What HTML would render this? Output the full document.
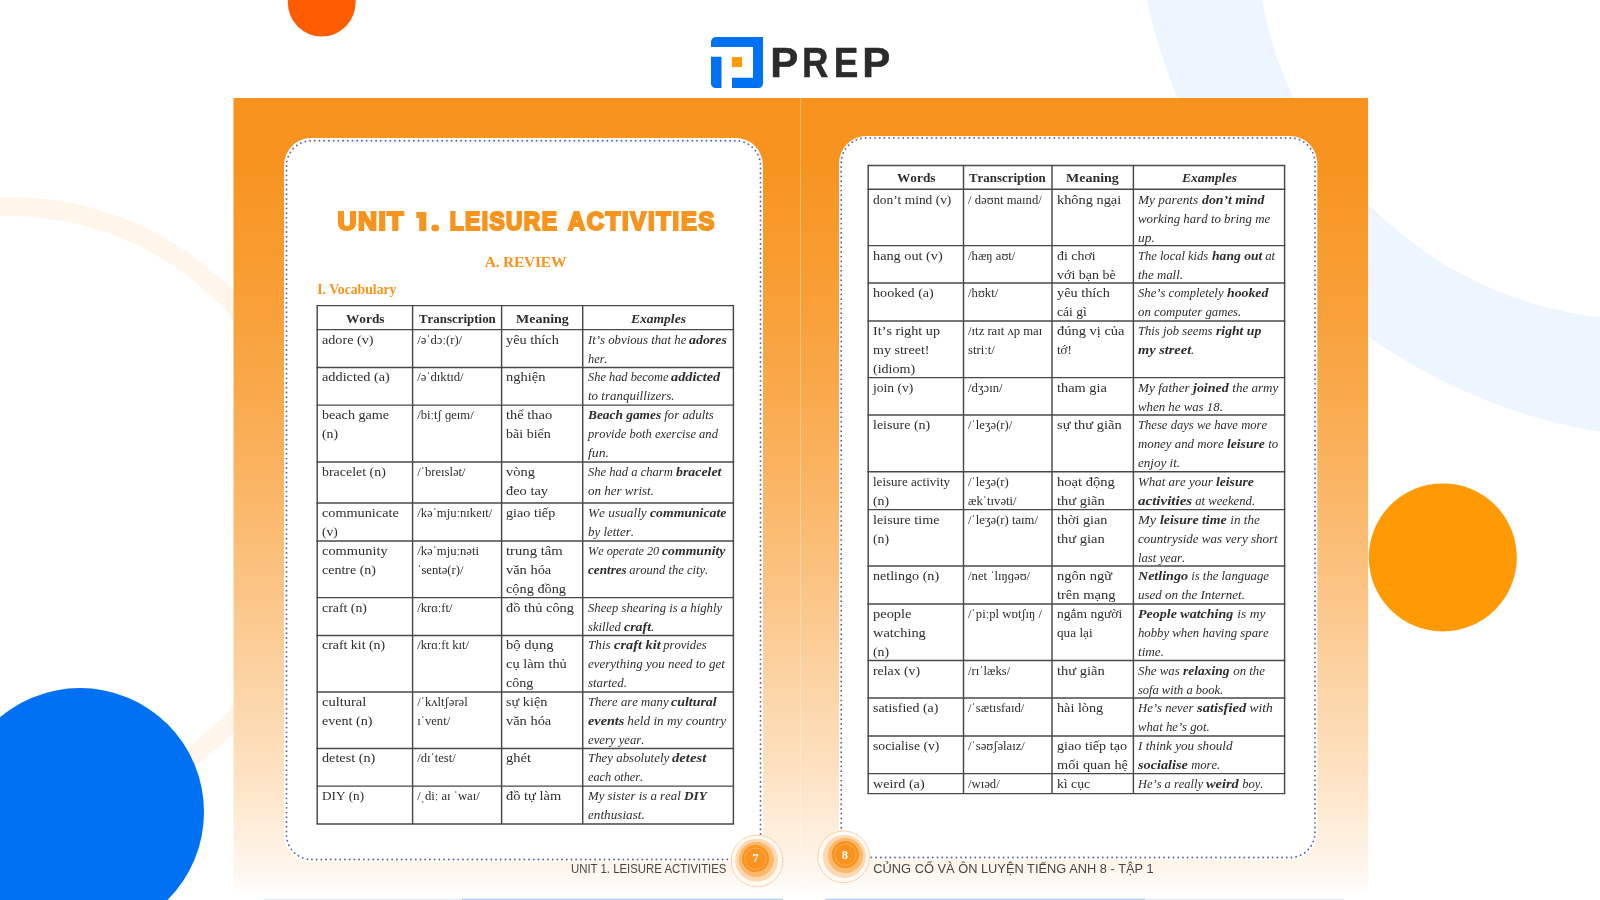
<!DOCTYPE html>
<html lang="vi"><head><meta charset="utf-8"><title>PREP - Unit 1. Leisure Activities</title>
<style>
*{margin:0;padding:0;box-sizing:border-box}
html,body{width:1600px;height:900px;overflow:hidden;background:#fff}
body{position:relative;-webkit-font-smoothing:antialiased;font-family:"Liberation Serif",serif;color:#2e2c2e}
#stage{position:absolute;left:0;top:0;width:1600px;height:900px;overflow:hidden;will-change:transform;transform:translateZ(0)}
.abs,.c,.th,.grid,svg.bg,svg.fg{position:absolute}
svg.bg,svg.fg,.grid{left:0;top:0;pointer-events:none}
.c{white-space:pre;line-height:18.9px;font-size:13.1px;font-kerning:none;font-variant-ligatures:none}
.s{display:inline-block;transform-origin:0 50%;white-space:pre}
.c.ipa{font-size:12.65px;letter-spacing:0}
.c.e{font-style:italic;font-size:13.2px}
.th{white-space:pre;line-height:19px;font-size:13.1px;font-weight:bold;font-kerning:none;font-variant-ligatures:none}
.th.ex{font-style:italic;font-size:13.2px}
.sub{position:absolute;left:284px;width:483px;top:251.5px;text-align:center;font-weight:bold;font-size:15.5px;line-height:20px;color:#f7941d;letter-spacing:-.25px;white-space:nowrap}
.voc{position:absolute;left:317.3px;top:279.6px;font-weight:bold;font-size:13.7px;line-height:20px;color:#f7941d;white-space:nowrap}
</style></head>
<body>
<div id="stage">
<svg class="bg" width="1600" height="900" viewBox="0 0 1600 900">
<path fill="#edf6ff" fill-rule="evenodd" d="M1134.6 -116.2a555 555 0 1 0 1110 0a555 555 0 1 0 -1110 0ZM1255.7 -69.7a389.8 389.8 0 1 0 779.6 0a389.8 389.8 0 1 0 -779.6 0Z"/>
<circle cx="9" cy="512" r="305.5" fill="none" stroke="#fff5ea" stroke-width="19"/>
<circle cx="321.7" cy="2.6" r="33.9" fill="#ff5c00"/>
<circle cx="80" cy="812" r="124" fill="#0071f2"/>
<circle cx="1442.8" cy="557.4" r="74" fill="#ff9a05"/>
</svg>
<svg class="bg" width="1600" height="900" viewBox="0 0 1600 900"><defs><linearGradient id="sg" x1="0" y1="98" x2="0" y2="900" gradientUnits="userSpaceOnUse"><stop offset="0.0000" stop-color="#f7931e"/><stop offset="0.0773" stop-color="#f7931e"/><stop offset="0.1272" stop-color="#f79726"/><stop offset="0.1895" stop-color="#f89b2e"/><stop offset="0.2519" stop-color="#f89f37"/><stop offset="0.3766" stop-color="#f9aa4d"/><stop offset="0.5012" stop-color="#fab768"/><stop offset="0.6259" stop-color="#fbc688"/><stop offset="0.7506" stop-color="#fcd6aa"/><stop offset="0.8504" stop-color="#fde3c4"/><stop offset="0.9127" stop-color="#feeedb"/><stop offset="0.9626" stop-color="#fef6ed"/><stop offset="0.9963" stop-color="#ffffff"/><stop offset="1.0000" stop-color="#ffffff"/></linearGradient></defs><rect x="233.5" y="98" width="1134.6" height="802" fill="url(#sg)"/></svg>
<svg class="fg" width="1600" height="900" viewBox="0 0 1600 900">
<path d="M800.5 98V900" stroke="#fff" stroke-width="1" opacity=".33"/>
<path d="M311.5 138H735.5A27.5 27.5 0 0 1 763 165.5V862H311.5A27.5 27.5 0 0 1 284 834.5V165.5A27.5 27.5 0 0 1 311.5 138Z" fill="#fff"/>
<path d="M866.5 136H1289.8A27.5 27.5 0 0 1 1317.3 163.5V832.5A27.5 27.5 0 0 1 1289.8 860H839V163.5A27.5 27.5 0 0 1 866.5 136Z" fill="#fff"/>
<g fill="none" stroke="#5f60aa" stroke-width="1.9" stroke-linecap="round" stroke-dasharray="0 4.72">
<path d="M732 859.5H311.5A25.0 25.0 0 0 1 286.5 834.5V165.7A25.0 25.0 0 0 1 311.5 140.7H735.5A25.0 25.0 0 0 1 760.5 165.7V839"/>
<path d="M841.2 832.5V162.9A25.0 25.0 0 0 1 866.2 137.9H1290.0A25.0 25.0 0 0 1 1315.0 162.9V832.5A25.0 25.0 0 0 1 1290.0 857.5H866.5"/>
</g>
<g>
<circle cx="757" cy="860.9" r="25.8" fill="#fffaf4" stroke="#f8b06a" stroke-width="0.75" stroke-dasharray="2.2 0.7"/>
<circle cx="756.6" cy="860.2" r="21.5" fill="#fdd9b1"/>
<circle cx="756.3" cy="859.4" r="17.6" fill="#fab96d"/>
<circle cx="755.6" cy="858.6" r="13.5" fill="#f7931e"/>
<circle cx="755.4" cy="858.7" r="10.6" fill="none" stroke="#fde0bf" stroke-width="0.65" stroke-dasharray="1.1 0.9"/>
<text x="755.6" y="862.3000000000001" text-anchor="middle" font-family="Liberation Serif" font-weight="bold" font-size="12.4" fill="#fff">7</text>
</g>
<g>
<circle cx="843.7" cy="856.9" r="25.8" fill="#fffaf4" stroke="#f8b06a" stroke-width="0.75" stroke-dasharray="2.2 0.7"/>
<circle cx="844.4" cy="856.4" r="21.5" fill="#fdd9b1"/>
<circle cx="845.5" cy="855.6" r="17.6" fill="#fab96d"/>
<circle cx="845.4" cy="854.6" r="13.5" fill="#f7931e"/>
<circle cx="845.4" cy="854.7" r="10.6" fill="none" stroke="#fde0bf" stroke-width="0.65" stroke-dasharray="1.1 0.9"/>
<text x="844.8" y="858.7" text-anchor="middle" font-family="Liberation Serif" font-weight="bold" font-size="12.4" fill="#fff">8</text>
</g>
<path d="M264 899.4H462" stroke="#e3eefb" stroke-width="1.25"/>
<path d="M462 899.4H783" stroke="#a6cbf4" stroke-width="1.25"/>
<path d="M825.5 899.4H1145" stroke="#a6cbf4" stroke-width="1.25"/>
<path d="M1145 899.4H1344" stroke="#e3eefb" stroke-width="1.25"/>
</svg>
<svg class="abs" style="left:711px;top:37px" width="52" height="51" viewBox="0 0 52 51">
<path d="M5 0H52V46.5a4.5 4.5 0 0 1-4.500 4.500H21V40.800H42V10H0V5a5 5 0 0 1 5-5Z" fill="#0071f2"/>
<path d="M0 19.800H10.500V51H4.500a4.500 4.500 0 0 1-4.500-4.500Z" fill="#0071f2"/>
<rect x="21" y="20" width="10" height="10" fill="#ff9a00"/>
</svg>
<svg class="abs" style="left:0;top:0" width="1600" height="300" viewBox="0 0 1600 300"><g font-family="Liberation Sans" font-weight="bold" font-size="24.9" fill="#f7941d" stroke="#f7941d" stroke-width="2.2" stroke-linejoin="miter" stroke-miterlimit="2.5"><text transform="scale(1.06 1)" x="318.30" y="229.6" textLength="62.26" lengthAdjust="spacing">UNIT</text><text transform="scale(0.91 1)" x="494.29" y="229.6" textLength="117.58" lengthAdjust="spacing">LEISURE</text><text transform="scale(0.95 1)" x="597.79" y="229.6" textLength="154.11" lengthAdjust="spacing">ACTIVITIES</text></g><path d="M416.3 212.1H426.3V230.9H419.2V218H416.3Z" fill="#f7941d"/><ellipse cx="435.2" cy="227.9" rx="3.9" ry="3.35" fill="#f7941d"/><text transform="translate(770.29 77.0) scale(0.9690 1)" font-family="Liberation Sans" font-weight="bold" font-size="43.4" fill="#2b2b2d" stroke="#2b2b2d" stroke-width="0.5">P</text><text transform="translate(801.96 77.0) scale(0.8421 1)" font-family="Liberation Sans" font-weight="bold" font-size="43.4" fill="#2b2b2d" stroke="#2b2b2d" stroke-width="0.5">R</text><text transform="translate(833.73 77.0) scale(0.8501 1)" font-family="Liberation Sans" font-weight="bold" font-size="43.4" fill="#2b2b2d" stroke="#2b2b2d" stroke-width="0.5">E</text><text transform="translate(862.19 77.0) scale(0.9690 1)" font-family="Liberation Sans" font-weight="bold" font-size="43.4" fill="#2b2b2d" stroke="#2b2b2d" stroke-width="0.5">P</text></svg>
<div class="sub">A. REVIEW</div>
<div class="voc">I. Vocabulary</div>
<svg class="grid" width="1600" height="900" viewBox="0 0 1600 900"><g stroke="#4a474a" stroke-width="1.45" fill="none"><path d="M316.5 305.6H734.1"/><path d="M316.5 329.6H734.1"/><path d="M316.5 367.4H734.1"/><path d="M316.5 405.1H734.1"/><path d="M316.5 461.9H734.1"/><path d="M316.5 503.0H734.1"/><path d="M316.5 541.0H734.1"/><path d="M316.5 597.6H734.1"/><path d="M316.5 635.4H734.1"/><path d="M316.5 692.0H734.1"/><path d="M316.5 748.5H734.1"/><path d="M316.5 786.1H734.1"/><path d="M316.5 824.0H734.1"/><path d="M317.2 305.6V824.0"/><path d="M412.6 305.6V824.0"/><path d="M501.6 305.6V824.0"/><path d="M582.7 305.6V824.0"/><path d="M733.4 305.6V824.0"/></g></svg>
<div class="th" style="left:345.62px;top:309.2px"><span class="s" style="font-weight:bold;transform:scaleX(1.0185);margin-right:0.70px">Words</span></div>
<div class="th" style="left:418.69px;top:309.2px"><span class="s" style="font-weight:bold;transform:scaleX(0.9864);margin-right:-1.06px">Transcription</span></div>
<div class="th" style="left:515.74px;top:309.2px"><span class="s" style="font-weight:bold;transform:scaleX(1.0674);margin-right:3.34px">Meaning</span></div>
<div class="th ex" style="left:630.57px;top:309.2px"><span class="s" style="font-weight:bold;transform:scaleX(1.0266);margin-right:1.42px">Examples</span></div>
<div class="c w" style="left:321.70px;top:331.10px"><span class="s" style="transform:scaleX(1.0821);margin-right:3.91px">adore (v)</span></div>
<div class="c ipa" style="left:417.20px;top:331.10px">/əˈdɔː(r)/</div>
<div class="c m" style="left:506.10px;top:331.10px"><span class="s" style="transform:scaleX(1.0913);margin-right:4.42px">yêu thích</span></div>
<div class="c e" style="left:587.60px;top:331.10px"><span class="s" style="transform:scaleX(0.9689);margin-right:-3.26px">It’s obvious that he </span><span class="s" style="font-weight:bold;transform:scaleX(1.0532);margin-right:1.91px">adores</span><br><span class="s" style="transform:scaleX(0.9397);margin-right:-1.26px">her.</span></div>
<div class="c w" style="left:321.70px;top:368.10px"><span class="s" style="transform:scaleX(1.0921);margin-right:5.73px">addicted (a)</span></div>
<div class="c ipa" style="left:417.20px;top:368.10px">/əˈdɪktɪd/</div>
<div class="c m" style="left:506.10px;top:368.10px"><span class="s" style="transform:scaleX(1.1057);margin-right:3.77px">nghiện</span></div>
<div class="c e" style="left:587.60px;top:368.10px"><span class="s" style="transform:scaleX(0.9391);margin-right:-5.43px">She had become </span><span class="s" style="font-weight:bold;transform:scaleX(1.0839);margin-right:3.81px">addicted</span><br><span class="s" style="transform:scaleX(0.9842);margin-right:-1.39px">to tranquillizers.</span></div>
<div class="c w" style="left:321.70px;top:406.10px"><span class="s" style="transform:scaleX(1.0799);margin-right:4.97px">beach game</span><br><span class="s" style="transform:scaleX(1.0499);margin-right:0.76px">(n)</span></div>
<div class="c ipa" style="left:417.20px;top:406.10px">/biːtʃ ɡeɪm/</div>
<div class="c m" style="left:506.10px;top:406.10px"><span class="s" style="transform:scaleX(1.1031);margin-right:4.31px">thể thao</span><br><span class="s" style="transform:scaleX(1.0723);margin-right:3.03px">bãi biển</span></div>
<div class="c e" style="left:587.60px;top:406.10px"><span class="s" style="font-weight:bold;transform:scaleX(1.0130);margin-right:0.94px">Beach games</span><span class="s" style="transform:scaleX(0.9733);margin-right:-1.45px"> for adults</span><br><span class="s" style="transform:scaleX(0.9511);margin-right:-6.68px">provide both exercise and</span><br><span class="s" style="transform:scaleX(1.0450);margin-right:0.91px">fun.</span></div>
<div class="c w" style="left:321.70px;top:463.10px"><span class="s" style="transform:scaleX(1.0634);margin-right:3.80px">bracelet (n)</span></div>
<div class="c ipa" style="left:417.20px;top:463.10px">/ˈbreɪslət/</div>
<div class="c m" style="left:506.10px;top:463.10px"><span class="s" style="transform:scaleX(1.1030);margin-right:2.70px">vòng</span><br><span class="s" style="transform:scaleX(1.0995);margin-right:3.80px">đeo tay</span></div>
<div class="c e" style="left:587.60px;top:463.10px"><span class="s" style="transform:scaleX(0.9529);margin-right:-4.35px">She had a charm </span><span class="s" style="font-weight:bold;transform:scaleX(1.0506);margin-right:2.19px">bracelet</span><br><span class="s" style="transform:scaleX(0.9840);margin-right:-1.07px">on her wrist.</span></div>
<div class="c w" style="left:321.70px;top:504.10px"><span class="s" style="transform:scaleX(1.0884);margin-right:6.24px">communicate</span><br><span class="s" style="transform:scaleX(1.0356);margin-right:0.54px">(v)</span></div>
<div class="c ipa" style="left:417.20px;top:504.10px">/kəˈmjuːnɪkeɪt/</div>
<div class="c m" style="left:506.10px;top:504.10px"><span class="s" style="transform:scaleX(1.0829);margin-right:3.77px">giao tiếp</span></div>
<div class="c e" style="left:587.60px;top:504.10px"><span class="s" style="transform:scaleX(1.0086);margin-right:0.53px">We usually </span><span class="s" style="font-weight:bold;transform:scaleX(1.0416);margin-right:3.05px">communicate</span><br><span class="s" style="transform:scaleX(0.9789);margin-right:-0.99px">by letter.</span></div>
<div class="c w" style="left:321.70px;top:542.10px"><span class="s" style="transform:scaleX(1.1004);margin-right:5.99px">community</span><br><span class="s" style="transform:scaleX(1.0685);margin-right:3.46px">centre (n)</span></div>
<div class="c ipa" style="left:417.20px;top:542.10px">/kəˈmjuːnəti<br>ˈsentə(r)/</div>
<div class="c m" style="left:506.10px;top:542.10px"><span class="s" style="transform:scaleX(1.1234);margin-right:6.24px">trung tâm</span><br><span class="s" style="transform:scaleX(1.1020);margin-right:4.19px">văn hóa</span><br><span class="s" style="transform:scaleX(1.0930);margin-right:5.11px">cộng đồng</span></div>
<div class="c e" style="left:587.60px;top:542.10px"><span class="s" style="transform:scaleX(0.9261);margin-right:-5.93px">We operate 20 </span><span class="s" style="font-weight:bold;transform:scaleX(1.0422);margin-right:2.57px">community</span><br><span class="s" style="font-weight:bold;transform:scaleX(0.9978);margin-right:-0.09px">centres</span><span class="s" style="transform:scaleX(0.9512);margin-right:-4.22px"> around the city.</span></div>
<div class="c w" style="left:321.70px;top:599.10px"><span class="s" style="transform:scaleX(1.0560);margin-right:2.38px">craft (n)</span></div>
<div class="c ipa" style="left:417.20px;top:599.10px">/krɑːft/</div>
<div class="c m" style="left:506.10px;top:599.10px"><span class="s" style="transform:scaleX(1.1002);margin-right:6.20px">đồ thủ công</span></div>
<div class="c e" style="left:587.60px;top:599.10px"><span class="s" style="transform:scaleX(0.9635);margin-right:-5.08px">Sheep shearing is a highly</span><br><span class="s" style="transform:scaleX(0.9550);margin-right:-1.70px">skilled </span><span class="s" style="font-weight:bold;transform:scaleX(1.0572);margin-right:1.47px">craft</span><span class="s" style="transform:scaleX(0.9735);margin-right:-0.09px">.</span></div>
<div class="c w" style="left:321.70px;top:636.10px"><span class="s" style="transform:scaleX(1.0589);margin-right:3.51px">craft kit (n)</span></div>
<div class="c ipa" style="left:417.20px;top:636.10px">/krɑːft kɪt/</div>
<div class="c m" style="left:506.10px;top:636.10px"><span class="s" style="transform:scaleX(1.1170);margin-right:4.98px">bộ dụng</span><br><span class="s" style="transform:scaleX(1.0996);margin-right:5.51px">cụ làm thủ</span><br><span class="s" style="transform:scaleX(1.0738);margin-right:1.88px">công</span></div>
<div class="c e" style="left:587.60px;top:636.10px"><span class="s" style="transform:scaleX(1.0005);margin-right:0.01px">This </span><span class="s" style="font-weight:bold;transform:scaleX(1.0902);margin-right:3.87px">craft kit</span><span class="s" style="transform:scaleX(0.9590);margin-right:-2.00px"> provides</span><br><span class="s" style="transform:scaleX(0.9842);margin-right:-2.21px">everything you need to get</span><br><span class="s" style="transform:scaleX(0.9732);margin-right:-1.07px">started.</span></div>
<div class="c w" style="left:321.70px;top:693.10px"><span class="s" style="transform:scaleX(1.1090);margin-right:4.36px">cultural</span><br><span class="s" style="transform:scaleX(1.0761);margin-right:3.57px">event (n)</span></div>
<div class="c ipa" style="left:417.20px;top:693.10px">/ˈkʌltʃərəl<br>ɪˈvent/</div>
<div class="c m" style="left:506.10px;top:693.10px"><span class="s" style="transform:scaleX(1.0874);margin-right:3.32px">sự kiện</span><br><span class="s" style="transform:scaleX(1.1020);margin-right:4.19px">văn hóa</span></div>
<div class="c e" style="left:587.60px;top:693.10px"><span class="s" style="transform:scaleX(0.9655);margin-right:-3.00px">There are many </span><span class="s" style="font-weight:bold;transform:scaleX(1.0558);margin-right:2.41px">cultural</span><br><span class="s" style="font-weight:bold;transform:scaleX(1.0795);margin-right:2.68px">events</span><span class="s" style="transform:scaleX(1.0042);margin-right:0.43px"> held in my country</span><br><span class="s" style="transform:scaleX(0.9620);margin-right:-2.23px">every year.</span></div>
<div class="c w" style="left:321.70px;top:749.10px"><span class="s" style="transform:scaleX(1.0841);margin-right:4.13px">detest (n)</span></div>
<div class="c ipa" style="left:417.20px;top:749.10px">/dɪˈtest/</div>
<div class="c m" style="left:506.10px;top:749.10px"><span class="s" style="transform:scaleX(1.1070);margin-right:2.41px">ghét</span></div>
<div class="c e" style="left:587.60px;top:749.10px"><span class="s" style="transform:scaleX(0.9764);margin-right:-2.04px">They absolutely </span><span class="s" style="font-weight:bold;transform:scaleX(1.1127);margin-right:3.47px">detest</span><br><span class="s" style="transform:scaleX(0.9294);margin-right:-4.19px">each other.</span></div>
<div class="c w" style="left:321.70px;top:787.10px"><span class="s" style="transform:scaleX(1.0063);margin-right:0.26px">DIY (n)</span></div>
<div class="c ipa" style="left:417.20px;top:787.10px">/ˌdiː aɪ ˈwaɪ/</div>
<div class="c m" style="left:506.10px;top:787.10px"><span class="s" style="transform:scaleX(1.1036);margin-right:5.18px">đồ tự làm</span></div>
<div class="c e" style="left:587.60px;top:787.10px"><span class="s" style="transform:scaleX(0.9735);margin-right:-2.61px">My sister is a real </span><span class="s" style="font-weight:bold;transform:scaleX(1.0050);margin-right:0.11px">DIY</span><br><span class="s" style="transform:scaleX(0.9987);margin-right:-0.08px">enthusiast.</span></div>
<svg class="grid" width="1600" height="900" viewBox="0 0 1600 900"><g stroke="#4a474a" stroke-width="1.45" fill="none"><path d="M867.5 165.4H1285.3"/><path d="M867.5 189.2H1285.3"/><path d="M867.5 245.6H1285.3"/><path d="M867.5 283.0H1285.3"/><path d="M867.5 321.0H1285.3"/><path d="M867.5 377.6H1285.3"/><path d="M867.5 415.0H1285.3"/><path d="M867.5 471.8H1285.3"/><path d="M867.5 509.6H1285.3"/><path d="M867.5 566.0H1285.3"/><path d="M867.5 604.0H1285.3"/><path d="M867.5 660.4H1285.3"/><path d="M867.5 698.0H1285.3"/><path d="M867.5 736.0H1285.3"/><path d="M867.5 773.6H1285.3"/><path d="M867.5 793.6H1285.3"/><path d="M868.2 165.4V793.6"/><path d="M963.5 165.4V793.6"/><path d="M1052.0 165.4V793.6"/><path d="M1133.4 165.4V793.6"/><path d="M1284.6 165.4V793.6"/></g></svg>
<div class="th" style="left:896.58px;top:168.3px"><span class="s" style="font-weight:bold;transform:scaleX(1.0185);margin-right:0.70px">Words</span></div>
<div class="th" style="left:969.34px;top:168.3px"><span class="s" style="font-weight:bold;transform:scaleX(0.9864);margin-right:-1.06px">Transcription</span></div>
<div class="th" style="left:1066.29px;top:168.3px"><span class="s" style="font-weight:bold;transform:scaleX(1.0674);margin-right:3.34px">Meaning</span></div>
<div class="th ex" style="left:1181.52px;top:168.3px"><span class="s" style="font-weight:bold;transform:scaleX(1.0266);margin-right:1.42px">Examples</span></div>
<div class="c w" style="left:872.70px;top:191.10px"><span class="s" style="transform:scaleX(1.0258);margin-right:1.97px">don’t mind (v)</span></div>
<div class="c ipa" style="left:968.10px;top:191.10px">/ dəʊnt maɪnd/</div>
<div class="c m" style="left:1056.50px;top:191.10px"><span class="s" style="transform:scaleX(1.0962);margin-right:5.63px">không ngại</span></div>
<div class="c e" style="left:1138.30px;top:191.10px"><span class="s" style="transform:scaleX(1.0075);margin-right:0.48px">My parents </span><span class="s" style="font-weight:bold;transform:scaleX(1.0453);margin-right:2.71px">don’t mind</span><br><span class="s" style="transform:scaleX(0.9752);margin-right:-3.36px">working hard to bring me</span><br><span class="s" style="transform:scaleX(1.0171);margin-right:0.28px">up.</span></div>
<div class="c w" style="left:872.70px;top:247.10px"><span class="s" style="transform:scaleX(1.0889);margin-right:5.70px">hang out (v)</span></div>
<div class="c ipa" style="left:968.10px;top:247.10px">/hæŋ aʊt/</div>
<div class="c m" style="left:1056.50px;top:247.10px"><span class="s" style="transform:scaleX(1.0617);margin-right:2.24px">đi chơi</span><br><span class="s" style="transform:scaleX(1.0676);margin-right:3.71px">với bạn bè</span></div>
<div class="c e" style="left:1138.30px;top:247.10px"><span class="s" style="transform:scaleX(0.9488);margin-right:-3.96px">The local kids </span><span class="s" style="font-weight:bold;transform:scaleX(1.0321);margin-right:1.57px">hang out</span><span class="s" style="transform:scaleX(0.9727);margin-right:-0.37px"> at</span><br><span class="s" style="transform:scaleX(0.9736);margin-right:-1.22px">the mall.</span></div>
<div class="c w" style="left:872.70px;top:284.10px"><span class="s" style="transform:scaleX(1.0794);margin-right:4.48px">hooked (a)</span></div>
<div class="c ipa" style="left:968.10px;top:284.10px">/hʊkt/</div>
<div class="c m" style="left:1056.50px;top:284.10px"><span class="s" style="transform:scaleX(1.0913);margin-right:4.42px">yêu thích</span><br><span class="s" style="transform:scaleX(1.0393);margin-right:1.13px">cái gì</span></div>
<div class="c e" style="left:1138.30px;top:284.10px"><span class="s" style="transform:scaleX(0.9611);margin-right:-3.59px">She’s completely </span><span class="s" style="font-weight:bold;transform:scaleX(1.0462);margin-right:1.83px">hooked</span><br><span class="s" style="transform:scaleX(0.9691);margin-right:-3.29px">on computer games.</span></div>
<div class="c w" style="left:872.70px;top:322.10px"><span class="s" style="transform:scaleX(1.0834);margin-right:5.16px">It’s right up</span><br><span class="s" style="transform:scaleX(1.0710);margin-right:3.74px">my street!</span><br><span class="s" style="transform:scaleX(1.0726);margin-right:2.85px">(idiom)</span></div>
<div class="c ipa" style="left:968.10px;top:322.10px">/ɪtz raɪt ʌp maɪ<br>striːt/</div>
<div class="c m" style="left:1056.50px;top:322.10px"><span class="s" style="transform:scaleX(1.1040);margin-right:6.36px">đúng vị của</span><br><span class="s" style="transform:scaleX(0.9898);margin-right:-0.15px">tớ!</span></div>
<div class="c e" style="left:1138.30px;top:322.10px"><span class="s" style="transform:scaleX(0.9589);margin-right:-3.33px">This job seems </span><span class="s" style="font-weight:bold;transform:scaleX(1.0388);margin-right:1.69px">right up</span><br><span class="s" style="font-weight:bold;transform:scaleX(1.0907);margin-right:4.42px">my street</span><span class="s" style="transform:scaleX(0.9735);margin-right:-0.09px">.</span></div>
<div class="c w" style="left:872.70px;top:379.10px"><span class="s" style="transform:scaleX(1.0332);margin-right:1.29px">join (v)</span></div>
<div class="c ipa" style="left:968.10px;top:379.10px">/dʒɔɪn/</div>
<div class="c m" style="left:1056.50px;top:379.10px"><span class="s" style="transform:scaleX(1.0976);margin-right:4.44px">tham gia</span></div>
<div class="c e" style="left:1138.30px;top:379.10px"><span class="s" style="transform:scaleX(0.9995);margin-right:-0.03px">My father </span><span class="s" style="font-weight:bold;transform:scaleX(1.0582);margin-right:1.96px">joined</span><span class="s" style="transform:scaleX(0.9880);margin-right:-0.60px"> the army</span><br><span class="s" style="transform:scaleX(0.9735);margin-right:-2.31px">when he was 18.</span></div>
<div class="c w" style="left:872.70px;top:416.10px"><span class="s" style="transform:scaleX(1.0709);margin-right:3.79px">leisure (n)</span></div>
<div class="c ipa" style="left:968.10px;top:416.10px">/ˈleʒə(r)/</div>
<div class="c m" style="left:1056.50px;top:416.10px"><span class="s" style="transform:scaleX(1.1047);margin-right:6.13px">sự thư giãn</span></div>
<div class="c e" style="left:1138.30px;top:416.10px"><span class="s" style="transform:scaleX(0.9578);margin-right:-5.69px">These days we have more</span><br><span class="s" style="transform:scaleX(0.9738);margin-right:-2.40px">money and more </span><span class="s" style="font-weight:bold;transform:scaleX(1.0314);margin-right:1.15px">leisure</span><span class="s" style="transform:scaleX(0.9727);margin-right:-0.37px"> to</span><br><span class="s" style="transform:scaleX(0.9907);margin-right:-0.40px">enjoy it.</span></div>
<div class="c w" style="left:872.70px;top:473.10px"><span class="s" style="transform:scaleX(0.9952);margin-right:-0.37px">leisure activity</span><br><span class="s" style="transform:scaleX(1.0499);margin-right:0.76px">(n)</span></div>
<div class="c ipa" style="left:968.10px;top:473.10px">/ˈleʒə(r)<br>ækˈtɪvəti/</div>
<div class="c m" style="left:1056.50px;top:473.10px"><span class="s" style="transform:scaleX(1.1112);margin-right:5.78px">hoạt động</span><br><span class="s" style="transform:scaleX(1.1095);margin-right:4.72px">thư giãn</span></div>
<div class="c e" style="left:1138.30px;top:473.10px"><span class="s" style="transform:scaleX(0.9824);margin-right:-1.40px">What are your </span><span class="s" style="font-weight:bold;transform:scaleX(1.0314);margin-right:1.15px">leisure</span><br><span class="s" style="font-weight:bold;transform:scaleX(1.1383);margin-right:6.59px">activities</span><span class="s" style="transform:scaleX(0.9629);margin-right:-2.44px"> at weekend.</span></div>
<div class="c w" style="left:872.70px;top:511.10px"><span class="s" style="transform:scaleX(1.0834);margin-right:5.12px">leisure time</span><br><span class="s" style="transform:scaleX(1.0499);margin-right:0.76px">(n)</span></div>
<div class="c ipa" style="left:968.10px;top:511.10px">/ˈleʒə(r) taɪm/</div>
<div class="c m" style="left:1056.50px;top:511.10px"><span class="s" style="transform:scaleX(1.0802);margin-right:3.74px">thời gian</span><br><span class="s" style="transform:scaleX(1.1095);margin-right:4.72px">thư gian</span></div>
<div class="c e" style="left:1138.30px;top:511.10px"><span class="s" style="transform:scaleX(1.0801);margin-right:1.61px">My </span><span class="s" style="font-weight:bold;transform:scaleX(1.0519);margin-right:3.29px">leisure time</span><span class="s" style="transform:scaleX(0.9955);margin-right:-0.15px"> in the</span><br><span class="s" style="transform:scaleX(0.9853);margin-right:-2.09px">countryside was very short</span><br><span class="s" style="transform:scaleX(0.9589);margin-right:-2.02px">last year.</span></div>
<div class="c w" style="left:872.70px;top:567.10px"><span class="s" style="transform:scaleX(1.0757);margin-right:4.66px">netlingo (n)</span></div>
<div class="c ipa" style="left:968.10px;top:567.10px">/net ˈlɪŋɡəʊ/</div>
<div class="c m" style="left:1056.50px;top:567.10px"><span class="s" style="transform:scaleX(1.1108);margin-right:5.50px">ngôn ngữ</span><br><span class="s" style="transform:scaleX(1.1092);margin-right:5.76px">trên mạng</span></div>
<div class="c e" style="left:1138.30px;top:567.10px"><span class="s" style="font-weight:bold;transform:scaleX(1.0647);margin-right:3.04px">Netlingo</span><span class="s" style="transform:scaleX(0.9652);margin-right:-2.92px"> is the language</span><br><span class="s" style="transform:scaleX(0.9870);margin-right:-1.41px">used on the Internet.</span></div>
<div class="c w" style="left:872.70px;top:605.10px"><span class="s" style="transform:scaleX(1.1029);margin-right:3.59px">people</span><br><span class="s" style="transform:scaleX(1.1001);margin-right:4.81px">watching</span><br><span class="s" style="transform:scaleX(1.0499);margin-right:0.76px">(n)</span></div>
<div class="c ipa" style="left:968.10px;top:605.10px">/ˈpiːpl wɒtʃɪŋ /</div>
<div class="c m" style="left:1056.50px;top:605.10px"><span class="s" style="transform:scaleX(1.0319);margin-right:2.01px">ngắm người</span><br><span class="s" style="transform:scaleX(1.0100);margin-right:0.35px">qua lại</span></div>
<div class="c e" style="left:1138.30px;top:605.10px"><span class="s" style="font-weight:bold;transform:scaleX(1.0610);margin-right:5.48px">People watching</span><span class="s" style="transform:scaleX(1.0202);margin-right:0.62px"> is my</span><br><span class="s" style="transform:scaleX(0.9666);margin-right:-4.52px">hobby when having spare</span><br><span class="s" style="transform:scaleX(1.0013);margin-right:0.03px">time.</span></div>
<div class="c w" style="left:872.70px;top:662.10px"><span class="s" style="transform:scaleX(1.0520);margin-right:2.33px">relax (v)</span></div>
<div class="c ipa" style="left:968.10px;top:662.10px">/rɪˈlæks/</div>
<div class="c m" style="left:1056.50px;top:662.10px"><span class="s" style="transform:scaleX(1.1095);margin-right:4.72px">thư giãn</span></div>
<div class="c e" style="left:1138.30px;top:662.10px"><span class="s" style="transform:scaleX(0.9735);margin-right:-1.22px">She was </span><span class="s" style="font-weight:bold;transform:scaleX(1.0204);margin-right:0.93px">relaxing</span><span class="s" style="transform:scaleX(0.9736);margin-right:-0.95px"> on the</span><br><span class="s" style="transform:scaleX(0.9441);margin-right:-5.05px">sofa with a book.</span></div>
<div class="c w" style="left:872.70px;top:699.10px"><span class="s" style="transform:scaleX(1.0634);margin-right:3.90px">satisfied (a)</span></div>
<div class="c ipa" style="left:968.10px;top:699.10px">/ˈsætɪsfaɪd/</div>
<div class="c m" style="left:1056.50px;top:699.10px"><span class="s" style="transform:scaleX(1.0849);margin-right:3.61px">hài lòng</span></div>
<div class="c e" style="left:1138.30px;top:699.10px"><span class="s" style="transform:scaleX(0.9625);margin-right:-2.28px">He’s never </span><span class="s" style="font-weight:bold;transform:scaleX(1.1008);margin-right:4.51px">satisfied</span><span class="s" style="transform:scaleX(1.0279);margin-right:0.73px"> with</span><br><span class="s" style="transform:scaleX(0.9637);margin-right:-2.70px">what he’s got.</span></div>
<div class="c w" style="left:872.70px;top:737.10px"><span class="s" style="transform:scaleX(1.0422);margin-right:2.69px">socialise (v)</span></div>
<div class="c ipa" style="left:968.10px;top:737.10px">/ˈsəʊʃəlaɪz/</div>
<div class="c m" style="left:1056.50px;top:737.10px"><span class="s" style="transform:scaleX(1.0823);margin-right:5.33px">giao tiếp tạo</span><br><span class="s" style="transform:scaleX(1.0957);margin-right:6.20px">mối quan hệ</span></div>
<div class="c e" style="left:1138.30px;top:737.10px"><span class="s" style="transform:scaleX(0.9962);margin-right:-0.36px">I think you should</span><br><span class="s" style="font-weight:bold;transform:scaleX(1.0813);margin-right:3.75px">socialise</span><span class="s" style="transform:scaleX(0.9525);margin-right:-1.60px"> more.</span></div>
<div class="c w" style="left:872.70px;top:775.10px"><span class="s" style="transform:scaleX(1.0848);margin-right:4.04px">weird (a)</span></div>
<div class="c ipa" style="left:968.10px;top:775.10px">/wɪəd/</div>
<div class="c m" style="left:1056.50px;top:775.10px"><span class="s" style="transform:scaleX(1.0493);margin-right:1.56px">kì cục</span></div>
<div class="c e" style="left:1138.30px;top:775.10px"><span class="s" style="transform:scaleX(0.9442);margin-right:-4.03px">He’s a really </span><span class="s" style="font-weight:bold;transform:scaleX(1.0919);margin-right:2.76px">weird</span><span class="s" style="transform:scaleX(0.9550);margin-right:-1.15px"> boy.</span></div>
<svg class="abs" style="left:0;top:840px" width="1600" height="60" viewBox="0 840 1600 60"><g font-family="Liberation Sans" fill="#474547">
<text transform="translate(571.0 872.8) scale(0.884 1)" font-size="12.9">UNIT 1. LEISURE ACTIVITIES</text>
<text transform="translate(873.3 872.8) scale(1 1)" font-size="12.8" textLength="280.3" lengthAdjust="spacing">CỦNG CỐ VÀ ÔN LUYỆN TIẾNG ANH 8 - TẬP 1</text>
</g></svg>
</div>
</body></html>
